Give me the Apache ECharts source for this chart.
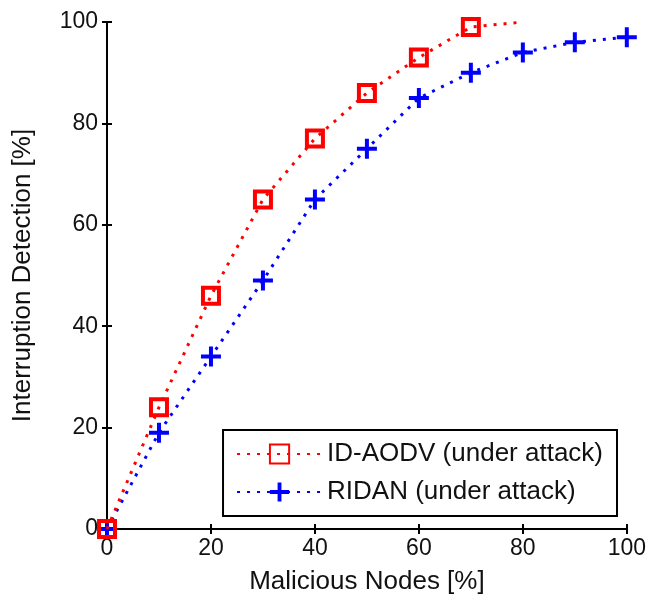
<!DOCTYPE html>
<html>
<head>
<meta charset="utf-8">
<script src="https://cdn.jsdelivr.net/npm/echarts@6/dist/echarts.min.js"></script>
<style>
  html, body { margin: 0; padding: 0; background: #fff; }
  #chart { width: 649px; height: 603px; }
</style>
</head>
<body>
<div id="chart"></div>
<script>
// values
const nodes = [0, 10, 20, 30, 40, 50, 60, 70, 80, 90, 100];
const idAodv = [0, 24, 46, 65, 77, 86, 93, 99, 100];
const ridan = [0, 19, 34, 49, 65, 75, 85, 90, 94, 96, 97];

const font = 'Liberation Sans, Arial, sans-serif';
const plusPath = 'path://M4,0H6V4H10V6H6V10H4V6H0V4H4Z';

const myChart = echarts.init(document.getElementById('chart'));

const axisCommon = {
  type: 'value',
  min: 0,
  max: 100,
  interval: 20,
  axisLine: { show: true, lineStyle: { color: '#000', width: 2 } },
  axisTick: { show: true, inside: true, length: 5, lineStyle: { color: '#000', width: 2 } },
  splitLine: { show: false },
};

const option = {
  animation: false,
  grid: { left: 107, right: 22, top: 22, bottom: 74 },
  legend: {
    right: 32,
    bottom: 87,
    orient: 'vertical',
    itemWidth: 85,
    itemHeight: 24,
    itemGap: 12,
    padding: [11, 14, 11, 13],
    borderColor: '#000',
    borderWidth: 2,
    backgroundColor: '#fff',
    textStyle: { fontFamily: font, fontSize: 26, color: '#111' },
    data: ['ID-AODV (under attack)', 'RIDAN (under attack)'],
  },
  xAxis: [
    Object.assign({}, axisCommon, {
      position: 'bottom',
      name: 'Malicious Nodes [%]',
      nameLocation: 'middle',
      nameGap: 40,
      nameTextStyle: { fontFamily: font, fontSize: 26, color: '#111' },
      axisLabel: { fontFamily: font, fontSize: 23, color: '#111', margin: 8 },
    }),
    Object.assign({}, axisCommon, { position: 'top', axisLabel: { show: false } }),
  ],
  yAxis: [
    Object.assign({}, axisCommon, {
      position: 'left',
      name: 'Interruption Detection [%]',
      nameLocation: 'middle',
      nameGap: 71,
      nameTextStyle: { fontFamily: font, fontSize: 26, color: '#111' },
      axisLabel: { fontFamily: font, fontSize: 23, color: '#111', margin: 9 },
    }),
    Object.assign({}, axisCommon, { position: 'right', axisLabel: { show: false } }),
  ],
  series: [
    {
      name: 'ID-AODV (under attack)',
      type: 'line',
      clip: true,
      data: idAodv.map((v, i) => {
        const p = { value: [nodes[i], v] };
        if (i === idAodv.length - 1) p.symbol = 'none';
        return p;
      }),
      symbol: 'rect',
      symbolSize: 16,
      showAllSymbol: true,
      lineStyle: { color: '#ff0000', width: 3, type: [3, 7] },
      itemStyle: { color: 'rgba(255,255,255,0)', borderColor: '#ff0000', borderWidth: 4 },
      z: 3,
    },
    {
      name: 'RIDAN (under attack)',
      type: 'line',
      clip: true,
      data: ridan.map((v, i) => [nodes[i], v]),
      symbol: plusPath,
      symbolSize: 20,
      showAllSymbol: true,
      lineStyle: { color: '#0000ff', width: 3, type: [3, 7] },
      itemStyle: { color: '#0000ff', borderWidth: 0 },
      z: 2,
    },
  ],
};

myChart.setOption(option);
</script>
</body>
</html>
